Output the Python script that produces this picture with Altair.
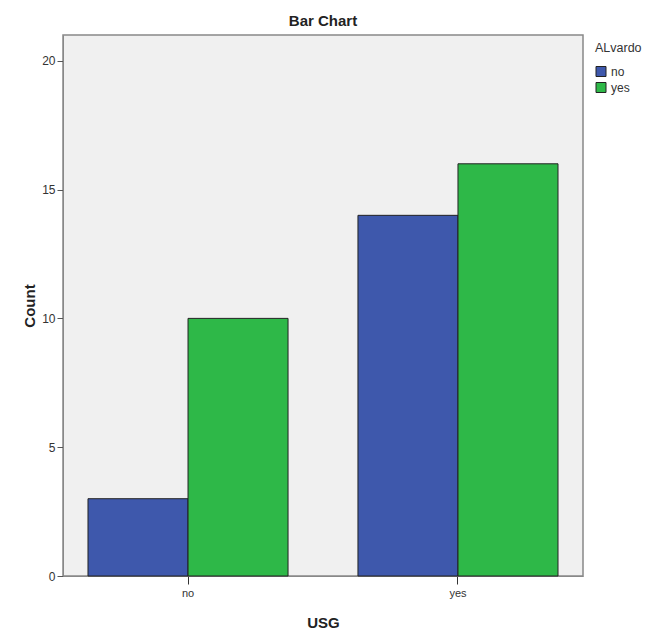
import altair as alt
import pandas as pd

usg = ["no", "no", "yes", "yes"]
alvardo = ["no", "yes", "no", "yes"]
counts = [3, 10, 14, 16]

df = pd.DataFrame({"USG": usg, "ALvardo": alvardo, "Count": counts})

chart = alt.Chart(df).mark_bar(stroke="#222222", strokeWidth=1).encode(
    x=alt.X("USG:N", title="USG",
            scale=alt.Scale(paddingInner=0.259, paddingOuter=0.0926),
            axis=alt.Axis(labelAngle=0, tickSize=8, labelPadding=3, titlePadding=17,
                          labelFontSize=11, titleFontSize=15, titleFontWeight="bold",
                          labelColor="#333333", titleColor="#222222",
                          domainColor="#888888", tickColor="#333333")),
    xOffset=alt.XOffset("ALvardo:N", scale=alt.Scale(paddingInner=0, paddingOuter=0)),
    y=alt.Y("Count:Q", title="Count",
            scale=alt.Scale(domain=[0, 21], nice=False),
            axis=alt.Axis(values=[0, 5, 10, 15, 20], grid=False, tickSize=6, labelPadding=2,
                          titlePadding=4, labelFontSize=12, titleFontSize=15,
                          titleFontWeight="bold", labelColor="#333333", titleColor="#222222",
                          domainColor="#888888", tickColor="#555555")),
    color=alt.Color("ALvardo:N", title="ALvardo",
                    scale=alt.Scale(domain=["no", "yes"], range=["#3E58AC", "#2EB848"]),
                    legend=alt.Legend(orient="none", legendX=532, legendY=7,
                                      symbolType="square", symbolSize=100,
                                      symbolStrokeColor="#222222", symbolStrokeWidth=1,
                                      titleFontWeight="normal", titleFontSize=12.5,
                                      labelFontSize=12, titleColor="#333333",
                                      labelColor="#333333", rowPadding=2, titlePadding=11,
                                      labelOffset=4)),
).properties(
    width=520, height=541,
    title=alt.TitleParams("Bar Chart", fontSize=15, fontWeight="bold", color="#222222", offset=6),
    autosize=alt.AutoSizeParams(type="none"),
    padding={"left": 55, "top": 27, "right": 61, "bottom": 53},
).configure(
    font="Arial",
    view=alt.ViewConfig(fill="#F0F0F0", stroke="#888888", strokeWidth=1.5),
)

chart.save("out.html", embed_options={"renderer": "svg", "actions": False})
